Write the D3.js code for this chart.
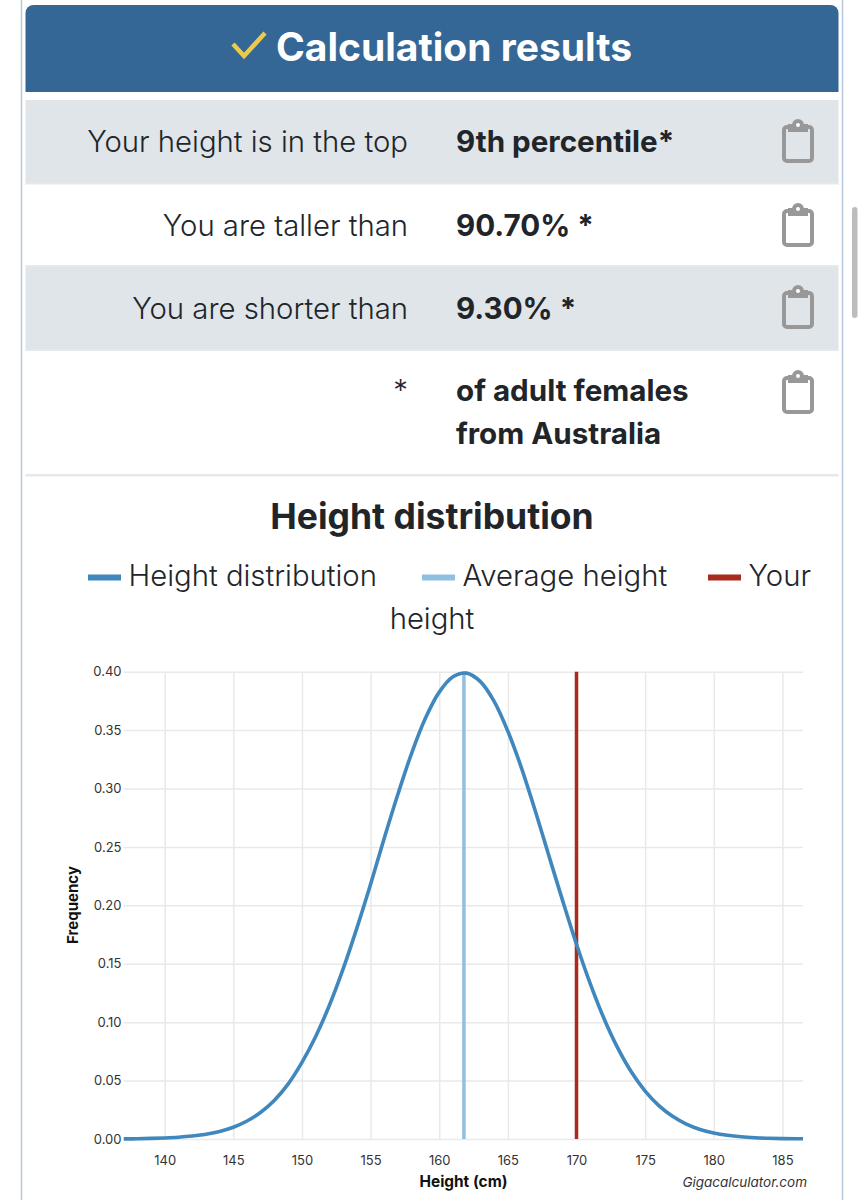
<!DOCTYPE html>
<html lang="en">
<head>
  <meta charset="UTF-8">
  <title>Height distribution</title>
  <script src="https://d3js.org/d3.v7.min.js"></script>
  <style>
    body { margin: 0; background: white; overflow: hidden; }
    svg { display: block; }
    text { font-family: Inter, "Noto Sans", sans-serif; fill: #212529; }
  </style>
</head>
<body>
  <script>
    // values
    const heights = [137, 138, 139, 140, 141, 142, 143, 144, 145, 146, 147, 148, 149, 150, 151, 152, 153, 154, 155, 156, 157, 158, 159, 160, 161, 162, 163, 164, 165, 166, 167, 168, 169, 170, 171, 172, 173, 174, 175, 176, 177, 178, 179, 180, 181, 182, 183, 184, 185, 186, 187];
    const frequency = [0.0001, 0.0002, 0.0005, 0.0009, 0.0015, 0.0025, 0.004, 0.0065, 0.0101, 0.0154, 0.0229, 0.0332, 0.0472, 0.0656, 0.0878, 0.1145, 0.1456, 0.1805, 0.218, 0.2577, 0.2955, 0.3306, 0.3603, 0.3825, 0.3956, 0.3988, 0.3915, 0.3746, 0.349, 0.3173, 0.2807, 0.242, 0.2036, 0.1667, 0.133, 0.1032, 0.078, 0.0573, 0.041, 0.0286, 0.0194, 0.0128, 0.0082, 0.0052, 0.0032, 0.0019, 0.0011, 0.0006, 0.0003, 0.0002, 0.0001];
    const averageHeight = 161.8;
    const yourHeight = 170;
    const xTicks = [140, 145, 150, 155, 160, 165, 170, 175, 180, 185];
    const yTicks = [0, 0.05, 0.1, 0.15, 0.2, 0.25, 0.3, 0.35, 0.4];

    const rowLabels = ["Your height is in the top", "You are taller than", "You are shorter than", "*"];
    const rowValues = [["9th percentile*"], ["90.70% *"], ["9.30% *"], ["of adult females", "from Australia"]];

    const blue = "#3f87bd", lightBlue = "#90c0e0", red = "#a92a1f";
    const legendNames = ["Height distribution", "Average height", "Your"];
    const legendColors = [blue, lightBlue, red];

    const svg = d3.select("body").append("svg")
      .attr("width", 864)
      .attr("height", 1200);

    // card outline
    svg.append("rect")
      .attr("x", 21.5).attr("y", -10)
      .attr("width", 821).attr("height", 1230)
      .attr("rx", 8)
      .attr("fill", "white")
      .attr("stroke", "#b8c9de")
      .attr("stroke-width", 1.5);

    // scrollbar
    svg.append("rect")
      .attr("x", 852).attr("y", 207)
      .attr("width", 5.5).attr("height", 111)
      .attr("rx", 2.7)
      .attr("fill", "#bdbdbd");

    // header
    svg.append("path")
      .attr("d", "M25.5,92V13a8,8 0 0 1 8,-8H830.5a8,8 0 0 1 8,8V92Z")
      .attr("fill", "#356796");
    svg.append("path")
      .attr("d", "M233,44L244,56L265,33")
      .attr("fill", "none")
      .attr("stroke", "#eccb4c")
      .attr("stroke-width", 4.5);
    svg.append("text")
      .attr("x", 276).attr("y", 60.5)
      .attr("font-size", 39).attr("font-weight", 700)
      .style("fill", "white")
      .text("Calculation results");

    // result rows
    const rowTop = [100, 184.5, 267, 351];
    const rowBottom = [184.5, 267, 351, 476];
    const labelBase = [151.5, 235.5, 318.5, 400.5];
    const iconTop = [119, 203, 285, 370];

    const rows = svg.append("g").selectAll("g")
      .data(rowLabels)
      .join("g");

    rows.append("rect")
      .attr("x", 25.5)
      .attr("y", (d, i) => rowTop[i])
      .attr("width", 813)
      .attr("height", (d, i) => rowBottom[i] - rowTop[i])
      .attr("fill", (d, i) => i % 2 === 0 ? "#dfe5e9" : "white");

    rows.append("rect")
      .attr("x", 25.5)
      .attr("y", (d, i) => rowBottom[i] - 2)
      .attr("width", 813)
      .attr("height", 2.5)
      .attr("fill", "#e6e9ec");

    rows.append("text")
      .attr("x", 408)
      .attr("y", (d, i) => labelBase[i])
      .attr("text-anchor", "end")
      .attr("font-size", 29.3)
      .attr("font-weight", 300)
      .text(d => d);

    rows.each(function(d, i) {
      const g = d3.select(this);
      rowValues[i].forEach((line, j) => {
        g.append("text")
          .attr("x", 456)
          .attr("y", labelBase[i] + j * 43)
          .attr("font-size", 29.6)
          .attr("font-weight", 700)
          .text(line);
      });
      // clipboard icon
      const icon = g.append("g")
        .attr("transform", `translate(782,${iconTop[i]})`)
        .attr("fill", "none")
        .attr("stroke", "#989898")
        .attr("stroke-width", 4);
      icon.append("rect")
        .attr("x", 2).attr("y", 8)
        .attr("width", 28).attr("height", 34)
        .attr("rx", 3);
      icon.append("path")
        .attr("d", "M7,6H11A5,5 0 0 1 21,6H25V12H7Z")
        .attr("fill", "#989898")
        .attr("stroke-width", 2);
      icon.append("circle")
        .attr("cx", 16).attr("cy", 6)
        .attr("r", 2)
        .attr("fill", "white")
        .attr("stroke", "none");
    });

    // chart title and legend
    svg.append("text")
      .attr("x", 432).attr("y", 529)
      .attr("text-anchor", "middle")
      .attr("font-size", 35.5).attr("font-weight", 700)
      .text("Height distribution");

    const legendSwatch = [88, 422, 708];
    const legend = svg.append("g").selectAll("g")
      .data(legendNames)
      .join("g")
      .attr("transform", (d, i) => `translate(${legendSwatch[i]},0)`);
    legend.append("rect")
      .attr("y", 574.5)
      .attr("width", 33).attr("height", 6)
      .attr("fill", (d, i) => legendColors[i]);
    legend.append("text")
      .attr("x", 40.5).attr("y", 586)
      .attr("font-size", 29.3).attr("font-weight", 300)
      .text(d => d);
    svg.append("text")
      .attr("x", 432).attr("y", 629)
      .attr("text-anchor", "middle")
      .attr("font-size", 29.3).attr("font-weight", 300)
      .text("height");

    // plot
    const xEnd = 186.5;
    const x = d3.scaleLinear().domain([137, xEnd]).range([123.5, 803]);
    const y = d3.scaleLinear().domain([0, 0.4]).range([1139, 671.7]);

    const xAxis = svg.append("g")
      .attr("transform", "translate(0,1139)")
      .call(d3.axisBottom(x).tickValues(xTicks).tickSize(0).tickPadding(17).tickFormat(d3.format("d")));
    const yAxis = svg.append("g")
      .attr("transform", "translate(123.5,0)")
      .call(d3.axisLeft(y).tickValues(yTicks).tickSize(0).tickPadding(2).tickFormat(d3.format(".2f")));

    [xAxis, yAxis].forEach(a => {
      a.select(".domain").remove();
      a.selectAll("text")
        .style("font-family", "Inter, sans-serif")
        .style("font-size", "13px")
        .style("fill", "#333");
    });

    xAxis.selectAll(".tick").append("line")
      .attr("y1", 0).attr("y2", y(0.4) - y(0))
      .attr("stroke", "#e9e9e9").attr("stroke-width", 1.5);
    yAxis.selectAll(".tick").append("line")
      .attr("x1", 0).attr("x2", x(xEnd) - x(137))
      .attr("stroke", "#e9e9e9").attr("stroke-width", 1.5);

    const lineGen = d3.line()
      .x(d => x(d[0]))
      .y(d => y(d[1]))
      .curve(d3.curveCatmullRom);

    const marker = [[averageHeight, lightBlue], [yourHeight, red]];
    svg.append("g").selectAll("line")
      .data(marker)
      .join("line")
      .attr("x1", d => x(d[0])).attr("x2", d => x(d[0]))
      .attr("y1", y(0)).attr("y2", y(0.4))
      .attr("stroke", d => d[1])
      .attr("stroke-width", 3.5);

    // curve stops at the right edge of the plot
    svg.append("clipPath").attr("id", "plot-clip")
      .append("rect")
      .attr("x", x(137)).attr("y", 660)
      .attr("width", x(xEnd) - x(137)).attr("height", 490);

    svg.append("path")
      .datum(d3.zip(heights, frequency))
      .attr("d", lineGen)
      .attr("clip-path", "url(#plot-clip)")
      .attr("fill", "none")
      .attr("stroke", blue)
      .attr("stroke-width", 3.6);

    // axis titles
    svg.append("text")
      .attr("x", 463.5).attr("y", 1187)
      .attr("text-anchor", "middle")
      .attr("font-size", 15.4).attr("font-weight", 700)
      .style("fill", "#111")
      .text("Height (cm)");
    svg.append("text")
      .attr("transform", "translate(78,905) rotate(-90)")
      .attr("text-anchor", "middle")
      .attr("font-size", 15).attr("font-weight", 700)
      .style("fill", "#111")
      .text("Frequency");
    svg.append("text")
      .attr("x", 807).attr("y", 1187)
      .attr("text-anchor", "end")
      .attr("font-size", 13.5).attr("font-style", "italic")
      .style("fill", "#333")
      .text("Gigacalculator.com");
  </script>
</body>
</html>
